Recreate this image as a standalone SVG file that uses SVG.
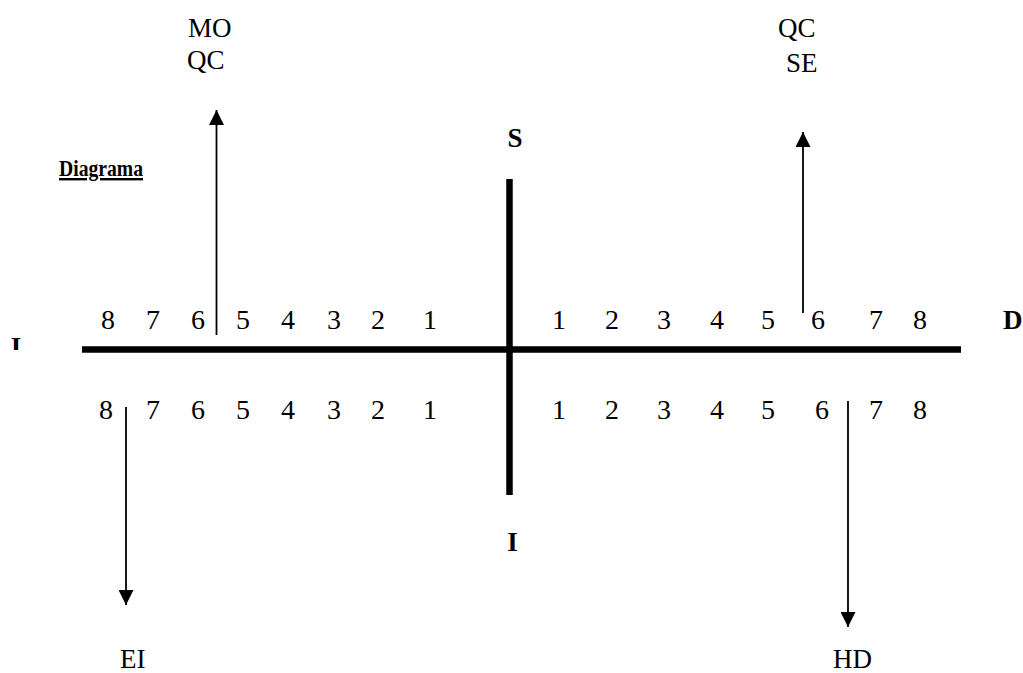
<svg xmlns="http://www.w3.org/2000/svg" width="1023" height="673" viewBox="0 0 1023 673">
  <style>
    .t { font-family: "Liberation Serif", "DejaVu Serif", serif; font-size: 27px; fill: #000; }
    .d { font-family: "Liberation Serif", "DejaVu Serif", serif; font-size: 28px; fill: #000; text-anchor: middle; }
    .b { font-family: "Liberation Serif", "DejaVu Serif", serif; font-size: 27px; font-weight: bold; fill: #000; }
    .title { font-family: "Liberation Serif", "DejaVu Serif", serif; font-size: 24px; font-weight: bold; text-decoration: underline; fill: #000; }
    .axis { stroke: #000; stroke-width: 6.5; fill: none; }
    .arr { stroke: #000; stroke-width: 1.8; fill: none; marker-end: url(#ah); }
  </style>
  <defs>
    <marker id="ah" markerUnits="userSpaceOnUse" markerWidth="15" markerHeight="15" refX="15" refY="7.5" orient="auto">
      <path d="M0,0 L15,7.5 L0,15 z" fill="#000"/>
    </marker>
    <clipPath id="clipI"><rect x="0" y="330" width="40" height="20"/></clipPath>
  </defs>
  <rect x="0" y="0" width="1023" height="673" fill="#fff"/>

  <g id="title">
    <text class="title" x="59" y="176" textLength="84" lengthAdjust="spacingAndGlyphs">Diagrama</text>
  </g>

  <g id="axes">
    <line class="axis" x1="82" y1="349.5" x2="961" y2="349.5"/>
    <line class="axis" x1="509.5" y1="179" x2="509.5" y2="495"/>
  </g>

  <g id="connectors">
    <line class="arr" x1="216.5" y1="335" x2="216.5" y2="110"/>
    <line class="arr" x1="803" y1="313" x2="803" y2="132"/>
    <line class="arr" x1="126" y1="407" x2="126" y2="605"/>
    <line class="arr" x1="848" y1="401" x2="848" y2="627"/>
  </g>

  <g id="label-S"><text class="b" x="515" y="147" text-anchor="middle">S</text></g>
  <g id="label-I-bottom"><text class="b" x="512.5" y="551" text-anchor="middle">I</text></g>
  <g id="label-I-left" clip-path="url(#clipI)"><text class="b" x="16" y="356" text-anchor="middle">I</text></g>
  <g id="label-D"><text class="b" x="1003" y="329">D</text></g>

  <g id="label-MO-QC">
    <text class="t" x="188" y="37">MO</text>
    <text class="t" x="187" y="69">QC</text>
  </g>
  <g id="label-QC-SE">
    <text class="t" x="778" y="37">QC</text>
    <text class="t" x="786" y="72">SE</text>
  </g>
  <g id="label-EI"><text class="t" x="120" y="668">EI</text></g>
  <g id="label-HD"><text class="t" x="833" y="668">HD</text></g>

  <g id="digits-top-left">
    <text class="d" x="108" y="329">8</text>
    <text class="d" x="153" y="329">7</text>
    <text class="d" x="198" y="329">6</text>
    <text class="d" x="243" y="329">5</text>
    <text class="d" x="288" y="329">4</text>
    <text class="d" x="334" y="329">3</text>
    <text class="d" x="378" y="329">2</text>
    <text class="d" x="430" y="329">1</text>
  </g>
  <g id="digits-bottom-left">
    <text class="d" x="106" y="419">8</text>
    <text class="d" x="153" y="419">7</text>
    <text class="d" x="198" y="419">6</text>
    <text class="d" x="243" y="419">5</text>
    <text class="d" x="288" y="419">4</text>
    <text class="d" x="334" y="419">3</text>
    <text class="d" x="378" y="419">2</text>
    <text class="d" x="430" y="419">1</text>
  </g>
  <g id="digits-top-right">
    <text class="d" x="559" y="329">1</text>
    <text class="d" x="612" y="329">2</text>
    <text class="d" x="664" y="329">3</text>
    <text class="d" x="717" y="329">4</text>
    <text class="d" x="768" y="329">5</text>
    <text class="d" x="818" y="329">6</text>
    <text class="d" x="876" y="329">7</text>
    <text class="d" x="920" y="329">8</text>
  </g>
  <g id="digits-bottom-right">
    <text class="d" x="559" y="419">1</text>
    <text class="d" x="612" y="419">2</text>
    <text class="d" x="664" y="419">3</text>
    <text class="d" x="717" y="419">4</text>
    <text class="d" x="768" y="419">5</text>
    <text class="d" x="822" y="419">6</text>
    <text class="d" x="876" y="419">7</text>
    <text class="d" x="920" y="419">8</text>
  </g>
</svg>
